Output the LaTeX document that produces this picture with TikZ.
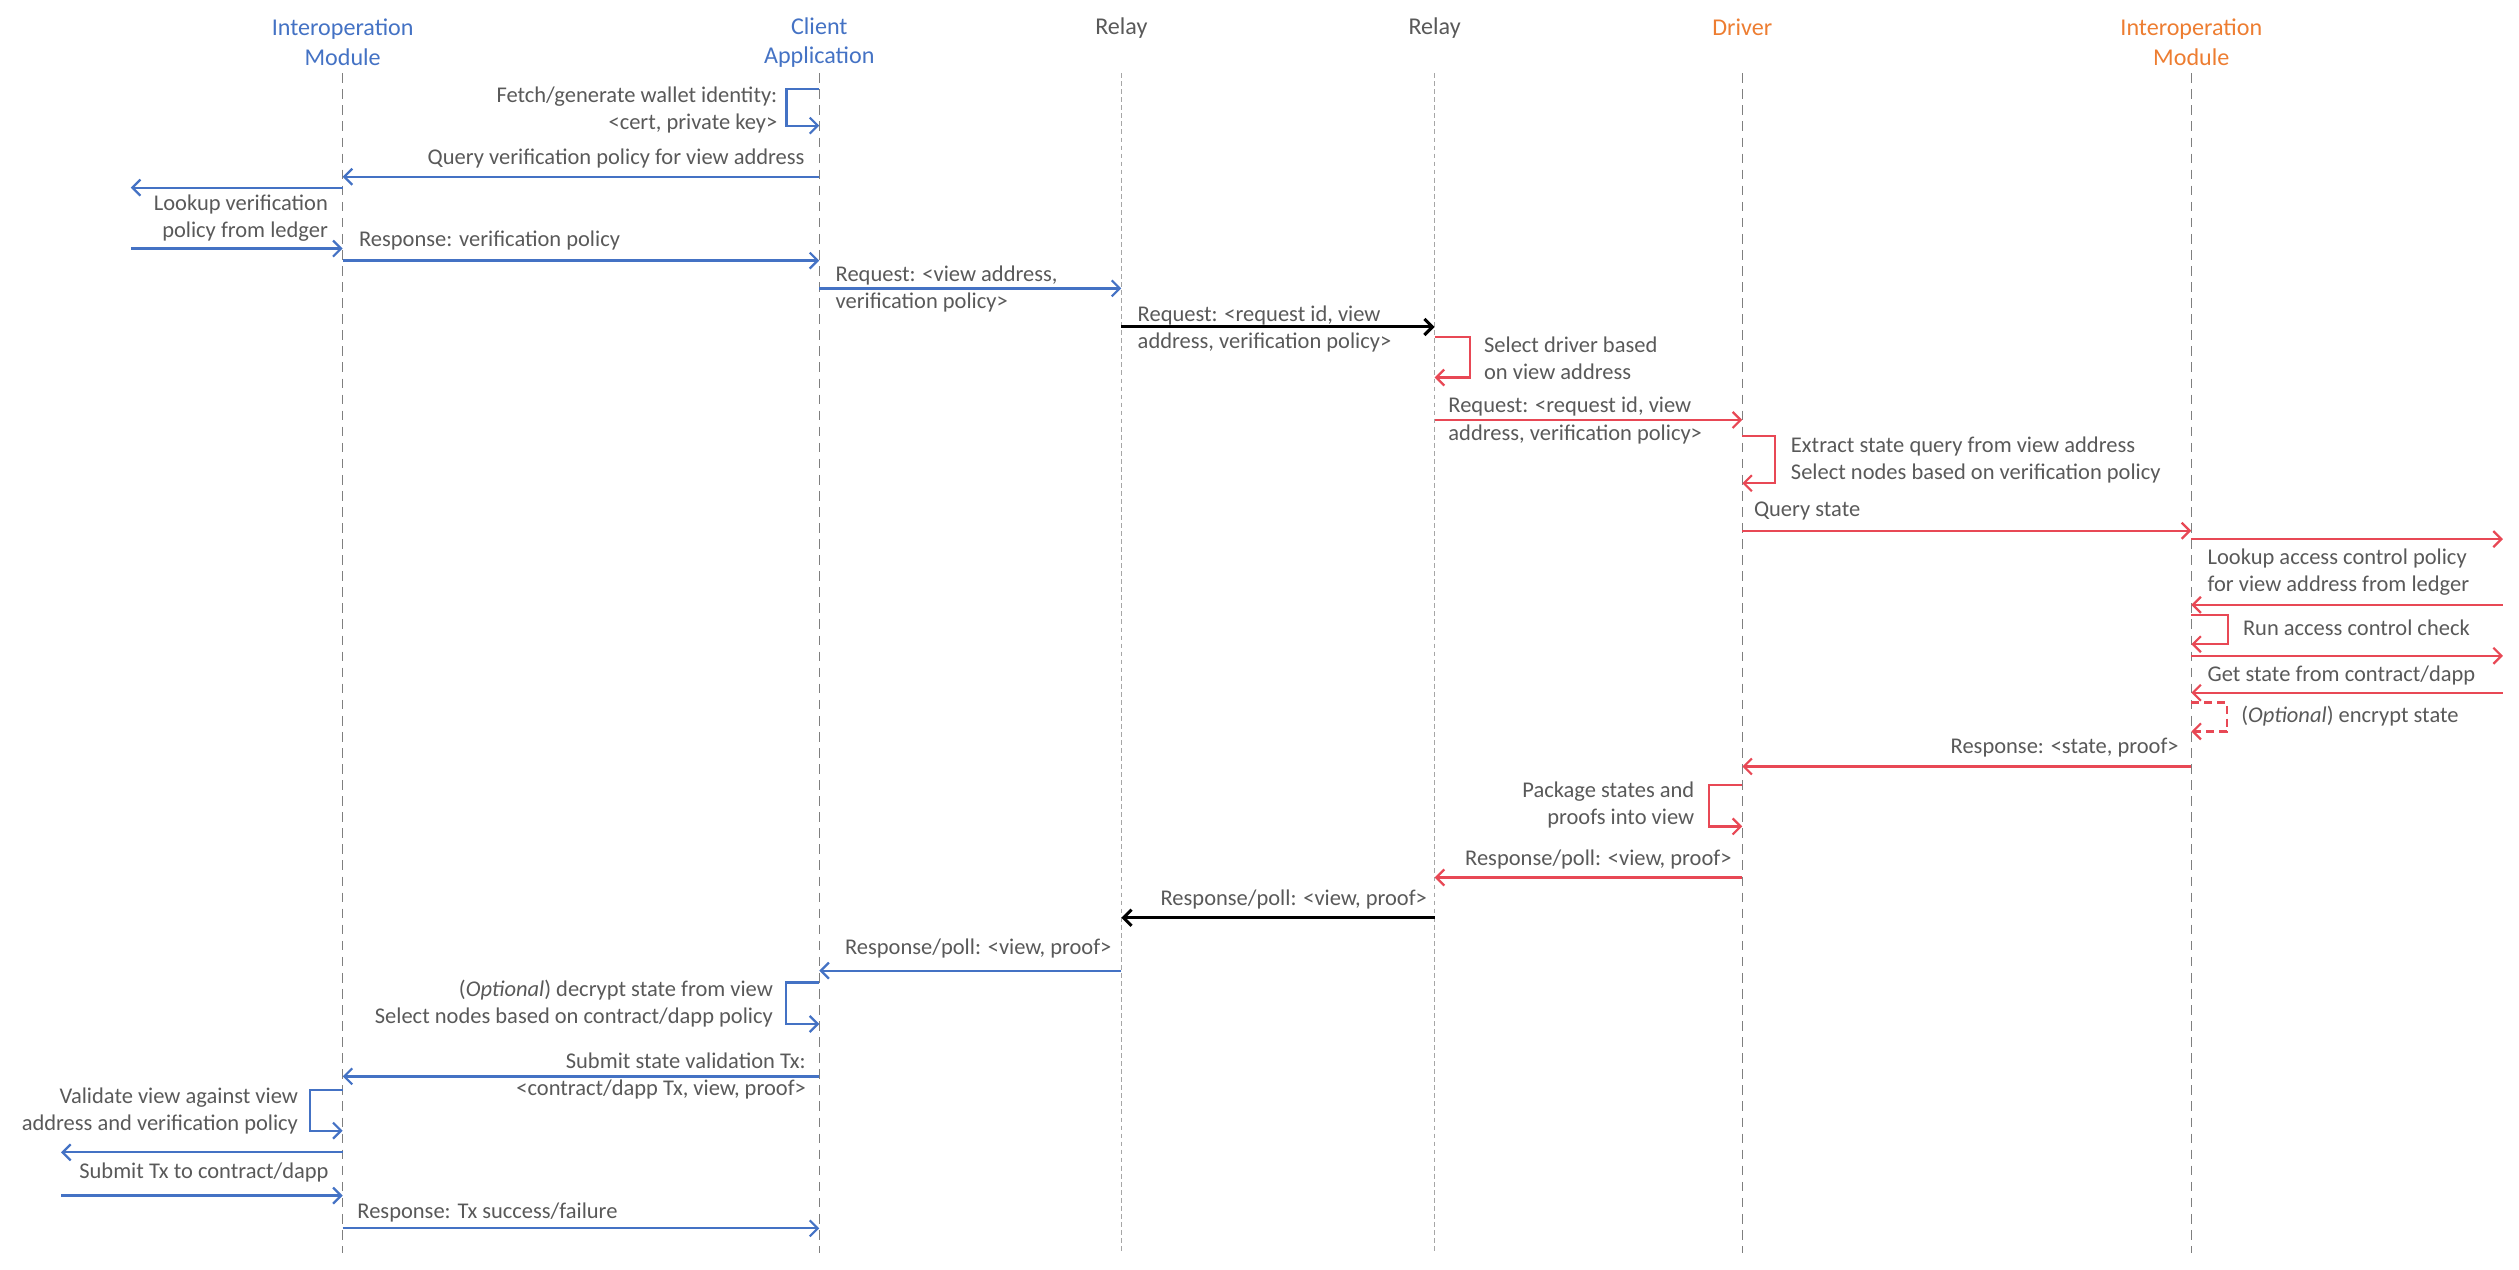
\documentclass[tikz,border=0pt]{standalone}
\usepackage{fontspec}
\setmainfont{Carlito}
\usetikzlibrary{arrows.meta}
\definecolor{modblue}{HTML}{4472C4}
\definecolor{msgred}{HTML}{E84855}
\definecolor{drvorange}{HTML}{ED7D31}
\definecolor{txtgray}{HTML}{595959}
\definecolor{lifegray}{HTML}{7F7F7F}
\definecolor{relaygray}{HTML}{A6A6A6}
\begin{document}
\begin{tikzpicture}[x=1pt,y=-1pt,
    >={Straight Barb[length=5pt,width=10pt]},
    head/.style={font=\fontsize{15}{18.5}\selectfont,align=center,inner sep=0pt},
    note/.style={font=\fontsize{14}{17}\selectfont,text=txtgray,inner sep=0pt},
    life/.style={draw=lifegray,line width=0.9pt,dash pattern=on 6pt off 4pt},
    relaylife/.style={draw=relaygray,line width=0.8pt,dash pattern=on 3pt off 2pt},
    bmsg/.style={draw=modblue,line width=1.4pt,->},
    rmsg/.style={draw=msgred,line width=1.4pt,->},
    kmsg/.style={draw=black,line width=1.9pt,->}]
  \useasboundingbox (0,0) rectangle (1568,790.5);
  % participants
  \node[head,text=modblue] (im1) at (213.3,26.5) {Interoperation\\Module};
  \node[head,text=modblue] (cli) at (510,26.5) {Client\\Application};
  \node[head,text=txtgray] (rla) at (698,17.2) {Relay};
  \node[head,text=txtgray] (rlb) at (893,17.2) {Relay};
  \node[head,text=drvorange] (drv) at (1084.5,17.2) {Driver};
  \node[head,text=drvorange] (im2) at (1364,26.5) {Interoperation\\Module};
  % rows of the messages
  \foreach \n/\y in {top/45.6,bot/780,
      r1/55.6,r2/78.2,r3/110,r4/116.8,r5/154.7,r6/162.2,r7/179.5,r8/203.5,
      r9/209.7,r10/235,r11/261.4,r12/271.3,r13/300.8,r14/330.4,r15/335.6,
      r16/376.5,r17/382.7,r18/401,r19/408.2,r20/431.2,r21/437.3,r22/455.3,
      r23/477.1,r24/488.5,r25/514.4,r26/546.2,r27/571.3,r28/604.2,r29/611.5,
      r30/637.4,r31/670,r32/678.3,r33/703.8,r34/717.3,r35/744.2,r36/764.6}
    \coordinate (\n) at (0,\y);
  \coordinate (ledgerA) at (81.4,0);
  \coordinate (dappA) at (38,0);
  \coordinate (ledgerB) at (1558,0);
  % lifelines
  \foreach \p in {im1,cli,drv,im2}
    \draw[life] (\p |- top) -- (\p |- bot);
  \foreach \p in {rla,rlb}
    \draw[relaylife] (\p |- top) -- (\p |- bot);
  % client side
  \draw[bmsg] (cli |- r1) -- ++(-20.4,0) |- (cli |- r2);
  \node[note,anchor=east,align=right] (n1) at (484,68.3) {Fetch/generate wallet identity:\\<cert, private key>};
  \draw[bmsg] (cli |- r3) -- (im1 |- r3);
  \node[note,anchor=east] (n2) at (501,98.5) {Query verification policy for view address};
  \draw[bmsg] (im1 |- r4) -- (ledgerA |- r4);
  \node[note,anchor=east,align=right] (n3) at (204.3,135.8) {Lookup verification\\policy from ledger};
  \draw[bmsg] (ledgerA |- r5) -- (im1 |- r5);
  \draw[bmsg] (im1 |- r6) -- (cli |- r6);
  \node[note,anchor=west] (n4) at (223.3,149.4) {Response: verification policy};
  \draw[bmsg] (cli |- r7) -- (rla |- r7);
  \node[note,anchor=west,align=left] (n5) at (520,180.1) {Request: <view address,\\verification policy>};
  % relays and driver
  \draw[kmsg] (rla |- r8) -- (rlb |- r8);
  \node[note,anchor=west,align=left] (n6) at (708,204.8) {Request: <request id, view\\address, verification policy>};
  \draw[rmsg] (rlb |- r9) -- ++(22,0) |- (rlb |- r10);
  \node[note,anchor=west,align=left] (n7) at (923.6,222.9) {Select driver based\\on view address};
  \draw[rmsg] (rlb |- r11) -- (drv |- r11);
  \node[note,anchor=west,align=left] (n8) at (901.4,261.7) {Request: <request id, view\\address, verification policy>};
  \draw[rmsg] (drv |- r12) -- ++(20.5,0) |- (drv |- r13);
  \node[note,anchor=west,align=left] (n9) at (1114.6,286.3) {Extract state query from view address\\Select nodes based on verification policy};
  \draw[rmsg] (drv |- r14) -- (im2 |- r14);
  \node[note,anchor=west] (n10) at (1091.6,317.8) {Query state};
  % remote interoperation module
  \draw[rmsg] (im2 |- r15) -- (ledgerB |- r15);
  \node[note,anchor=west,align=left] (n11) at (1374,356) {Lookup access control policy\\for view address from ledger};
  \draw[rmsg] (ledgerB |- r16) -- (im2 |- r16);
  \draw[rmsg] (im2 |- r17) -- ++(23,0) |- (im2 |- r18);
  \node[note,anchor=west] (n12) at (1396,391) {Run access control check};
  \draw[rmsg] (im2 |- r19) -- (ledgerB |- r19);
  \node[note,anchor=west] (n13) at (1374,420.5) {Get state from contract/dapp};
  \draw[rmsg] (ledgerB |- r20) -- (im2 |- r20);
  \draw[rmsg,dash pattern=on 5pt off 3pt] (im2 |- r21) -- ++(22,0) |- (im2 |- r22);
  \node[note,anchor=west] (n14) at (1395,445.6) {(\textit{Optional}) encrypt state};
  \draw[rmsg] (im2 |- r23) -- (drv |- r23);
  \node[note,anchor=east] (n15) at (1356.3,465.5) {Response: <state, proof>};
  % way back
  \draw[rmsg] (drv |- r24) -- ++(-20.5,0) |- (drv |- r25);
  \node[note,anchor=east,align=right] (n16) at (1054.8,500.9) {Package states and\\proofs into view};
  \draw[rmsg] (drv |- r26) -- (rlb |- r26);
  \node[note,anchor=east] (n17) at (1078,535.2) {Response/poll: <view, proof>};
  \draw[kmsg] (rlb |- r27) -- (rla |- r27);
  \node[note,anchor=east] (n18) at (888.4,560) {Response/poll: <view, proof>};
  \draw[bmsg] (rla |- r28) -- (cli |- r28);
  \node[note,anchor=east] (n19) at (692,590.6) {Response/poll: <view, proof>};
  \draw[bmsg] (cli |- r29) -- ++(-20.6,0) |- (cli |- r30);
  \node[note,anchor=east,align=right] (n20) at (481.3,624.5) {(\textit{Optional}) decrypt state from view\\Select nodes based on contract/dapp policy};
  \draw[bmsg] (cli |- r31) -- (im1 |- r31);
  \node[note,anchor=east,align=right] (n21) at (501.8,669.9) {Submit state validation Tx:\\<contract/dapp Tx, view, proof>};
  \draw[bmsg] (im1 |- r32) -- ++(-20.5,0) |- (im1 |- r33);
  \node[note,anchor=east,align=right] (n22) at (185.7,691.5) {Validate view against view\\address and verification policy};
  \draw[bmsg] (im1 |- r34) -- (dappA |- r34);
  \node[note,anchor=east] (n23) at (204.7,730.1) {Submit Tx to contract/dapp};
  \draw[bmsg] (dappA |- r35) -- (im1 |- r35);
  \draw[bmsg] (im1 |- r36) -- (cli |- r36);
  \node[note,anchor=west] (n24) at (222.3,754.6) {Response: Tx success/failure};
\end{tikzpicture}
\end{document}
